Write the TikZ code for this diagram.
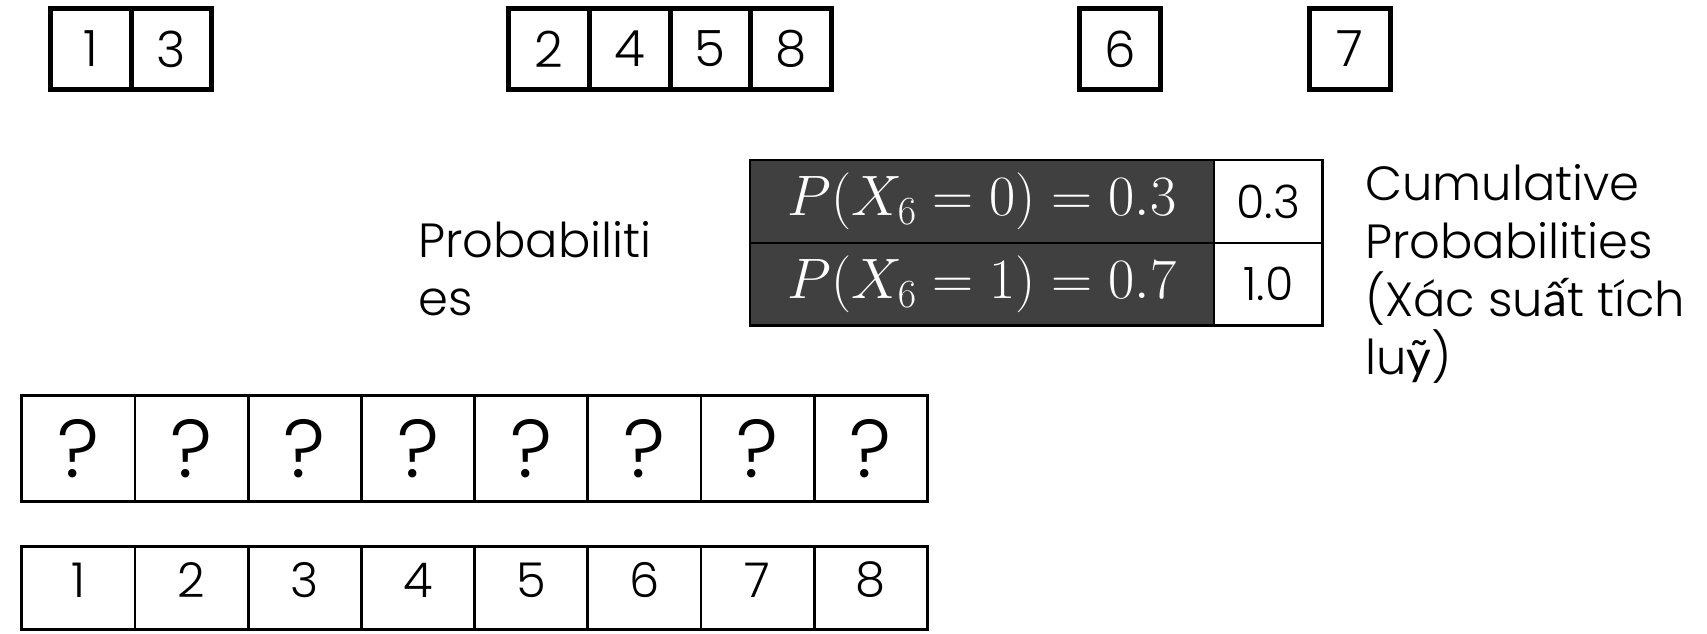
\RequirePackage{fix-cm}
\documentclass[tikz,border=0pt]{standalone}
\usepackage{fontspec}
\IfFontExistsTF{Poppins Light}{\setmainfont{Poppins Light}}{\setmainfont{Poppins}}
\newfontfamily\vnfont{Lato}
\definecolor{cellfill}{HTML}{404040}
\begin{document}
\begin{tikzpicture}[x=1pt,y=-1pt,
  topcell/.style={draw, line width=5pt, minimum width=80.6pt, minimum height=80.6pt, inner sep=0pt, font=\fontsize{50}{56}\selectfont},
  qcell/.style={draw, line width=2.8pt, minimum width=113.2pt, minimum height=106.6pt, inner sep=0pt, font=\fontsize{82}{86}\selectfont},
  ncell/.style={draw, line width=2.8pt, minimum width=113.2pt, minimum height=82.7pt, inner sep=0pt, font=\fontsize{48}{54}\selectfont},
  probcell/.style={draw, line width=2.5pt, fill=cellfill, text=white, minimum width=463.8pt, minimum height=82.8pt, inner sep=0pt, font=\fontsize{57}{64}\selectfont},
  cumcell/.style={draw, line width=2.5pt, minimum width=108.9pt, minimum height=82.8pt, inner sep=0pt, font=\fontsize{46}{52}\selectfont},
  textlabel/.style={align=left, anchor=north west, inner sep=0pt, font=\fontsize{48}{58}\selectfont}
]
\useasboundingbox (0,0) rectangle (1707,634);

% top row
\node[topcell] (t1) at (90.9,49) {1};
\node[topcell] (t3) at (171.5,49) {3};
\node[topcell] (t2) at (549.2,49) {2};
\node[topcell] (t4) at (629.8,49) {4};
\node[topcell] (t5) at (710.4,49) {5};
\node[topcell] (t8) at (791.0,49) {8};
\node[topcell] (t6) at (1120.1,49) {6};
\node[topcell] (t7) at (1349.9,49) {7};

% probability table
\node[probcell] (p0) at (981.9,201.4) {$P(X_6=0)=0.3$};
\node[probcell] (p1) at (981.9,284.2) {$P(X_6=1)=0.7$};
\node[cumcell] (c0) at (1268.25,201.4) {0.3};
\node[cumcell] (c1) at (1268.25,284.2) {1.0};

% labels
\node[textlabel] (lprob) at (418,221) {Probabiliti\\es};
\node[textlabel] (lcum) at (1365,164) {Cumulative\\Probabilities\\(Xác su{\vnfont ấ}t tích\\lu{\vnfont ỹ})};

% question row
\foreach \i in {1,...,8}{
  \node[qcell] (q\i) at ({21.8+113.2*(\i-0.5)},448.5) {?};
}
% number row
\foreach \i in {1,...,8}{
  \node[ncell] (n\i) at ({21.8+113.2*(\i-0.5)},587.9) {\raisebox{8pt}[\height][\depth]{\i}};
}
\end{tikzpicture}
\end{document}
